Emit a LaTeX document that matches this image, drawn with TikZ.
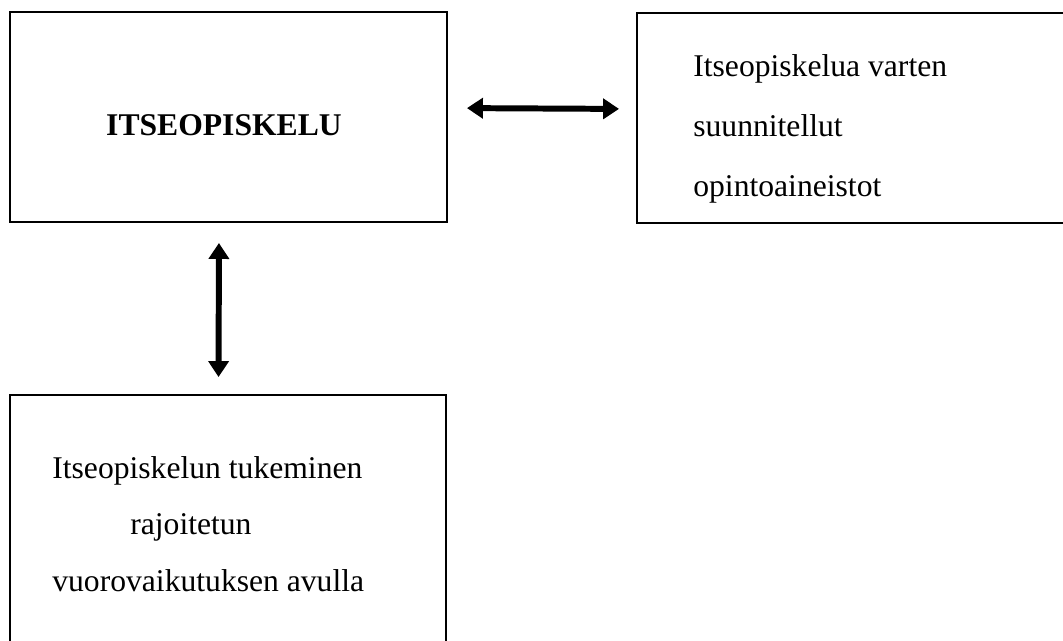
\documentclass[tikz,border=0pt]{standalone}
\usepackage{fontspec}
\setmainfont{Liberation Serif}
\usetikzlibrary{arrows.meta}
\tikzset{
  box/.style={draw,line width=1.2pt,inner sep=0pt,outer sep=0pt},
  txt/.style={inner sep=0pt,align=left},
  link/.style={line width=3.4pt,{Triangle[width=0.4cm,length=0.32cm]}-{Triangle[width=0.4cm,length=0.32cm]}}
}
\begin{document}
\begin{tikzpicture}[x=0.02cm,y=-0.02cm]  % ------ itseopiskelu ---------------
    \useasboundingbox (0,0) rectangle (1063,640);
    \clip (0,0) rectangle (1063,640);

    \node[box,minimum width=8.74cm,minimum height=4.2cm] (itse) at (228.5,117) {};
    \node[box,minimum width=8.96cm,minimum height=4.2cm] (aineisto) at (861,118) {};
    \node[box,minimum width=8.72cm,minimum height=5.7cm] (tuki) at (228,537.5) {};

    \node[txt,font=\fontsize{18}{34}\selectfont\bfseries] (itseT) at (224,125) {ITSEOPISKELU};
    \node[txt,anchor=west,font=\fontsize{18}{34}\selectfont] (aineistoT) at (693,129)
        {Itseopiskelua varten\\suunnitellut\\opintoaineistot};
    \node[txt,anchor=west,font=\fontsize{18}{32}\selectfont] (tukiT) at (52,524)
        {Itseopiskelun tukeminen\\\hspace*{1.56cm}rajoitetun\\vuorovaikutuksen avulla};

    \draw[link,shorten <=0.4cm,shorten >=0.36cm] ([yshift=0.18cm]itse.east) -- ([yshift=0.18cm]aineisto.west);
    \draw[link,shorten <=0.42cm,shorten >=0.36cm] ([xshift=-0.19cm]itse.south) -- ([xshift=-0.19cm]tuki.north);
\end{tikzpicture}
\end{document}
